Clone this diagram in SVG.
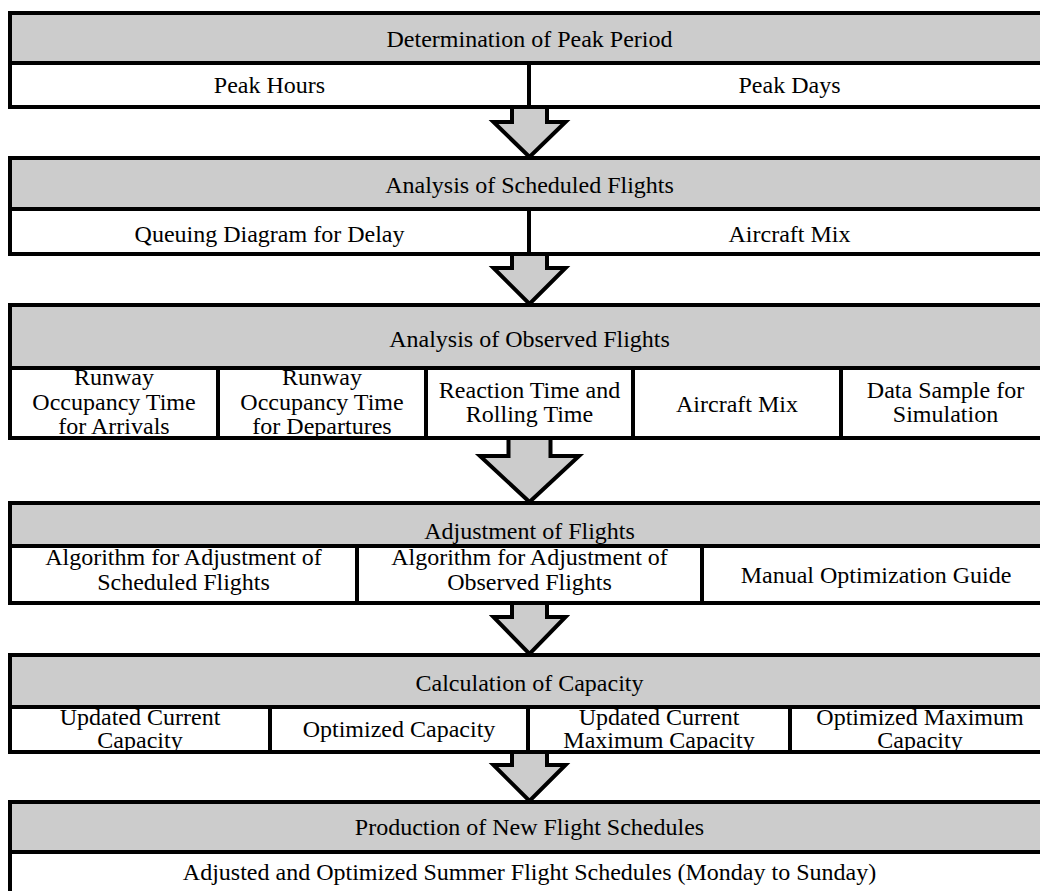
<svg xmlns="http://www.w3.org/2000/svg" width="1040" height="891" viewBox="0 0 1040 891">
<style>
.bg{fill:#ffffff}
.hdr{fill:#cccccc}
.cell{fill:#ffffff}
.ln{fill:none;stroke:#000000;stroke-width:4;stroke-linejoin:miter}
.t{font-family:"Liberation Serif","Times New Roman",serif;font-size:24px;text-anchor:middle;fill:#000000}
.arr{fill:#cccccc;stroke:#000000;stroke-width:4;stroke-linejoin:miter;stroke-miterlimit:10}
</style>
<rect class="bg" x="0" y="0" width="1040" height="891"/>
<g id="connectors">
<polygon class="arr" points="512,107 512,122 493.5,122 529.5,157 565.5,122 547,122 547,107"/>
<polygon class="arr" points="512,254 512,268 493.5,268 529.5,304 565.5,268 547,268 547,254"/>
<polygon class="arr" points="508.5,438 508.5,456 480,456 529.5,502 579,456 550.5,456 550.5,438"/>
<polygon class="arr" points="512,603 512,617 493.5,617 529.5,654 565.5,617 547,617 547,603"/>
<polygon class="arr" points="512,752 512,765 493.5,765 529.5,801 565.5,765 547,765 547,752"/>
</g>
<g id="peak-period">
<rect class="hdr" x="10" y="13" width="1040" height="50"/>
<rect class="cell" x="10" y="63" width="1040" height="44"/>
<text class="t" x="529.5" y="47">Determination of Peak Period</text>
<text class="t" x="269.5" y="93">Peak Hours</text>
<text class="t" x="789.5" y="93">Peak Days</text>
<path class="ln" d="M10,13H1050V107H10Z M10,63H1050 M529,63V107"/>
</g>
<g id="scheduled-flights">
<rect class="hdr" x="10" y="158" width="1040" height="51"/>
<rect class="cell" x="10" y="209" width="1040" height="45"/>
<text class="t" x="529.5" y="193">Analysis of Scheduled Flights</text>
<text class="t" x="269.5" y="242">Queuing Diagram for Delay</text>
<text class="t" x="789.5" y="242">Aircraft Mix</text>
<path class="ln" d="M10,158H1050V254H10Z M10,209H1050 M529,209V254"/>
</g>
<g id="observed-flights">
<rect class="hdr" x="10" y="305" width="1040" height="63"/>
<rect class="cell" x="10" y="368" width="1040" height="70"/>
<text class="t" x="529.5" y="347">Analysis of Observed Flights</text>
<text class="t" x="114" y="385">Runway</text>
<text class="t" x="114" y="410">Occupancy Time</text>
<text class="t" x="114" y="434">for Arrivals</text>
<text class="t" x="322" y="385">Runway</text>
<text class="t" x="322" y="410">Occupancy Time</text>
<text class="t" x="322" y="434">for Departures</text>
<text class="t" x="529.5" y="398">Reaction Time and</text>
<text class="t" x="529.5" y="422">Rolling Time</text>
<text class="t" x="737" y="412">Aircraft Mix</text>
<text class="t" x="945.5" y="398">Data Sample for</text>
<text class="t" x="945.5" y="422">Simulation</text>
<path class="ln" d="M10,305H1050V438H10Z M10,368H1050 M218,368V438 M426,368V438 M633,368V438 M841,368V438"/>
</g>
<g id="adjustment">
<rect class="hdr" x="10" y="503" width="1040" height="43"/>
<rect class="cell" x="10" y="546" width="1040" height="57"/>
<text class="t" x="529.5" y="539">Adjustment of Flights</text>
<text class="t" x="183.5" y="565">Algorithm for Adjustment of</text>
<text class="t" x="183.5" y="590">Scheduled Flights</text>
<text class="t" x="529.5" y="565">Algorithm for Adjustment of</text>
<text class="t" x="529.5" y="590">Observed Flights</text>
<text class="t" x="876" y="583">Manual Optimization Guide</text>
<path class="ln" d="M10,503H1050V603H10Z M10,546H1050 M357,546V603 M702,546V603"/>
</g>
<g id="capacity">
<rect class="hdr" x="10" y="655" width="1040" height="52"/>
<rect class="cell" x="10" y="707" width="1040" height="45"/>
<text class="t" x="529.5" y="691">Calculation of Capacity</text>
<text class="t" x="140" y="725">Updated Current</text>
<text class="t" x="140" y="748">Capacity</text>
<text class="t" x="399" y="737">Optimized Capacity</text>
<text class="t" x="659" y="725">Updated Current</text>
<text class="t" x="659" y="748">Maximum Capacity</text>
<text class="t" x="920" y="725">Optimized Maximum</text>
<text class="t" x="920" y="748">Capacity</text>
<path class="ln" d="M10,655H1050V752H10Z M10,707H1050 M270,707V752 M528,707V752 M790,707V752"/>
</g>
<g id="new-schedules">
<rect class="hdr" x="10" y="802" width="1040" height="50"/>
<rect class="cell" x="10" y="852" width="1040" height="50"/>
<text class="t" x="529.5" y="835">Production of New Flight Schedules</text>
<text class="t" x="529.5" y="880">Adjusted and Optimized Summer Flight Schedules (Monday to Sunday)</text>
<path class="ln" d="M10,802H1050V902H10Z M10,852H1050"/>
</g>
</svg>
